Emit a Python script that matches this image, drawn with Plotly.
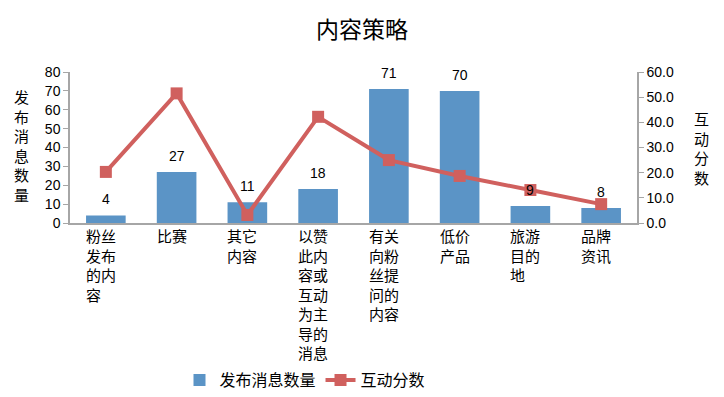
import plotly.graph_objects as go

categories = ["粉丝<br>发布<br>的内<br>容", "比赛", "其它<br>内容",
              "以赞<br>此内<br>容或<br>互动<br>为主<br>导的<br>消息",
              "有关<br>向粉<br>丝提<br>问的<br>内容", "低价<br>产品",
              "旅游<br>目的<br>地", "品牌<br>资讯"]
message_counts = [4, 27, 11, 18, 71, 70, 9, 8]
interaction_scores = [20.3, 51.5, 3.2, 42.2, 25.0, 18.7, 13.1, 7.5]
left_ticks = [0, 10, 20, 30, 40, 50, 60, 70, 80]
right_ticks = [0, 10, 20, 30, 40, 50, 60]

CJK = "Noto Sans CJK SC"
NUM = "Liberation Sans"
BLUE = "#5B94C6"
RED = "#D0605E"
AXIS = "#A6A6A6"

fig = go.Figure()
fig.add_trace(go.Bar(
    x=categories, y=message_counts, name="发布消息数量",
    marker=dict(color=BLUE, line=dict(width=0)),
    yaxis="y",
))
fig.add_trace(go.Scatter(
    x=categories, y=interaction_scores, name="互动分数", mode="lines+markers",
    line=dict(color=RED, width=4),
    marker=dict(symbol="square", size=12, color=RED),
    yaxis="y2", cliponaxis=False,
))

annotations = []
for cat, val in zip(categories, message_counts):
    annotations.append(dict(x=cat, y=val, xref="x", yref="y", text=str(val),
                            showarrow=False, yshift=16, yanchor="middle",
                            font=dict(family=NUM, size=14, color="#000000")))
# category labels (left-aligned lines, as in the original wrapped labels)
for cat in categories:
    annotations.append(dict(x=cat, y=0, xref="x", yref="y", text=cat,
                            showarrow=False, xanchor="center", yanchor="top",
                            align="left", xshift=-5, yshift=0,
                            font=dict(family=CJK, size=15, color="#000000")))

annotations.append(dict(text="<br>".join("发布消息数量"), xref="paper", yref="paper",
                        x=(21 - 70) / 567, y=(223 - 145) / 151,
                        showarrow=False, xanchor="center", yanchor="middle",
                        font=dict(family=CJK, size=15, color="#000000")))
annotations.append(dict(text="<br>".join("互动分数"), xref="paper", yref="paper",
                        x=(701 - 70) / 567, y=(223 - 148) / 151,
                        showarrow=False, xanchor="center", yanchor="middle",
                        font=dict(family=CJK, size=15, color="#000000")))

fig.update_layout(
    width=724, height=397,
    margin=dict(l=70, r=87, t=72, b=174, autoexpand=False),
    paper_bgcolor="white", plot_bgcolor="white",
    title=dict(text="内容策略", x=0.5, xanchor="center", y=1 - 30 / 397,
               yanchor="middle", font=dict(family=CJK, size=23, color="#000000")),
    bargap=0.44,
    showlegend=True,
    legend=dict(orientation="h", x=(305 - 70) / 567, xanchor="center",
                y=(223 - 380) / 151, yanchor="middle",
                bgcolor="rgba(0,0,0,0)",
                font=dict(family=CJK, size=16, color="#000000"),
                itemwidth=30),
    xaxis=dict(showline=True, linecolor=AXIS, linewidth=1.5, ticks="",
               showticklabels=False,
               showgrid=False, automargin=False),
    yaxis=dict(range=[0, 80], tickvals=left_ticks, showline=True, linecolor=AXIS,
               linewidth=1.5, ticks="outside", ticklen=5, tickcolor=AXIS,
               showgrid=False, zeroline=False, automargin=False,
               tickfont=dict(family=NUM, size=14, color="#000000")),
    yaxis2=dict(range=[0, 60], tickvals=right_ticks,
                ticktext=[f"{v:.1f}" for v in right_ticks],
                overlaying="y", side="right", showline=True, linecolor=AXIS,
                linewidth=1.5, ticks="outside", ticklen=5, tickcolor=AXIS,
                showgrid=False, zeroline=False, automargin=False,
                tickfont=dict(family=NUM, size=14, color="#000000")),
    annotations=annotations,
)

fig.write_html("out.html", config={"displayModeBar": False},
               post_script="document.body.style.margin='0';document.body.style.padding='0';")
